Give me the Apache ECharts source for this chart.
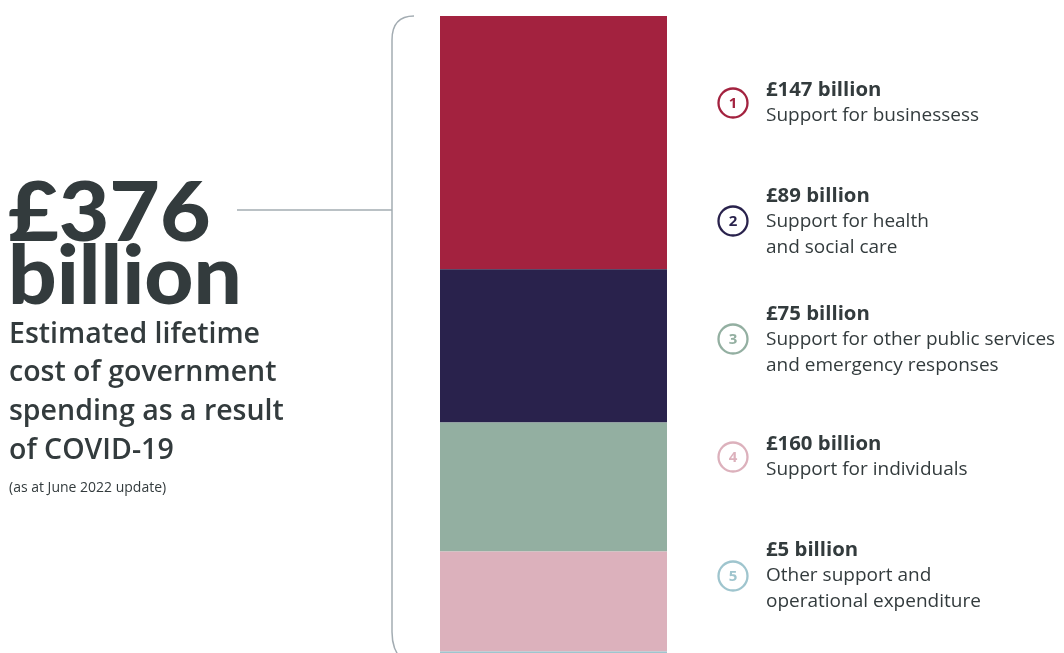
<!DOCTYPE html>
<html>
<head>
<meta charset="utf-8">
<script src="https://cdn.jsdelivr.net/npm/echarts@6/dist/echarts.min.js"></script>
<style>
html,body{margin:0;padding:0;background:#fff;overflow:hidden;width:1064px;height:653px;}
#c{width:1064px;height:690px;}
</style>
</head>
<body>
<div id="c"></div>
<script>
const segmentNames = ['Support for businessess', 'Support for health and social care', 'Support for other public services and emergency responses', 'Support for individuals', 'Other support and operational expenditure'];
const segmentValues = [147, 89, 75, 58, 5];
const segmentColors = ['#A3223F', '#29224C', '#93AFA1', '#DCB1BC', '#9FC5CE'];
// Label texts as printed
const amountLabels = ['£147 billion', '£89 billion', '£75 billion', '£160 billion', '£5 billion'];
const descLines = [
  ['Support for businessess'],
  ['Support for health', 'and social care'],
  ['Support for other public services', 'and emergency responses'],
  ['Support for individuals'],
  ['Other support and', 'operational expenditure']
];
const titleBig = ['£376', 'billion'];
const subtitleLines = ['Estimated lifetime', 'cost of government', 'spending as a result', 'of COVID-19'];
const noteText = '(as at June 2022 update)';
const axisMax = 380;

const FONT = 'Lato, "Open Sans", sans-serif';
const FONT2 = '"Open Sans", Lato, sans-serif';
const TXT = '#333B3D';
const BR = '#A3ACB2';

const chart = echarts.init(document.getElementById('c'), null, {renderer: 'canvas'});

const series = segmentValues.map((v, i) => ({
  name: segmentNames[i],
  type: 'bar',
  stack: 'total',
  data: [v],
  barWidth: '100%',
  itemStyle: {color: segmentColors[i]},
  emphasis: {disabled: true},
  silent: true
}));

const graphics = [];
const bigScale = [1.065, 1.04];
titleBig.forEach((t, i) => {
  graphics.push({type: 'text', x: 8, y: 174 + i * 63, scaleX: bigScale[i], style: {text: t, font: '900 82px ' + FONT, fill: TXT, verticalAlign: 'top'}});
});
subtitleLines.forEach((t, i) => {
  graphics.push({type: 'text', x: 9, y: 320 + i * 38.7, style: {text: t, font: '600 28.5px ' + FONT2, fill: TXT, verticalAlign: 'top'}});
});
graphics.push({type: 'text', x: 9, y: 481, style: {text: noteText, font: '14px ' + FONT2, fill: TXT, verticalAlign: 'top'}});

// bracket
graphics.push({type: 'bezierCurve', shape: {x1: 414, y1: 16, cpx1: 392, cpy1: 16, x2: 392, y2: 40}, style: {stroke: BR, lineWidth: 1.5, fill: null}});
graphics.push({type: 'line', shape: {x1: 392, y1: 40, x2: 392, y2: 632}, style: {stroke: BR, lineWidth: 1.5}});
graphics.push({type: 'bezierCurve', shape: {x1: 392, y1: 632, cpx1: 392, cpy1: 650, x2: 402, y2: 660}, style: {stroke: BR, lineWidth: 1.5, fill: null}});
graphics.push({type: 'line', shape: {x1: 237, y1: 210, x2: 392, y2: 210}, style: {stroke: BR, lineWidth: 1.5}});

// right-side labels
const itemTops = [81, 187, 305, 435, 541];
const circleOffsets = [13, 25, 25, 13, 26];
amountLabels.forEach((a, i) => {
  const top = itemTops[i];
  graphics.push({type: 'text', x: 766, y: top, scaleX: 1.07, style: {text: a, font: 'bold 19px ' + FONT2, fill: TXT, verticalAlign: 'top'}});
  descLines[i].forEach((l, j) => {
    graphics.push({type: 'text', x: 766, y: top + 25.5 * (j + 1), style: {text: l, font: '19px ' + FONT2, fill: TXT, verticalAlign: 'top'}});
  });
  const cy = top + 9 + circleOffsets[i];
  graphics.push({type: 'circle', shape: {cx: 733, cy: cy, r: 14.5}, style: {stroke: segmentColors[i], lineWidth: 2.3, fill: '#fff'}});
  graphics.push({type: 'text', x: 733, y: cy + 0.5, style: {text: String(i + 1), font: 'bold 15px ' + FONT2, fill: segmentColors[i], align: 'center', verticalAlign: 'middle'}});
});

chart.setOption({
  animation: false,
  grid: {left: 440, width: 227, top: 16, height: axisMax * 1.722},
  xAxis: {type: 'category', data: ['Total'], show: false},
  yAxis: {type: 'value', inverse: true, min: 0, max: axisMax, show: false},
  series: series,
  graphic: graphics
});
</script>
</body>
</html>
